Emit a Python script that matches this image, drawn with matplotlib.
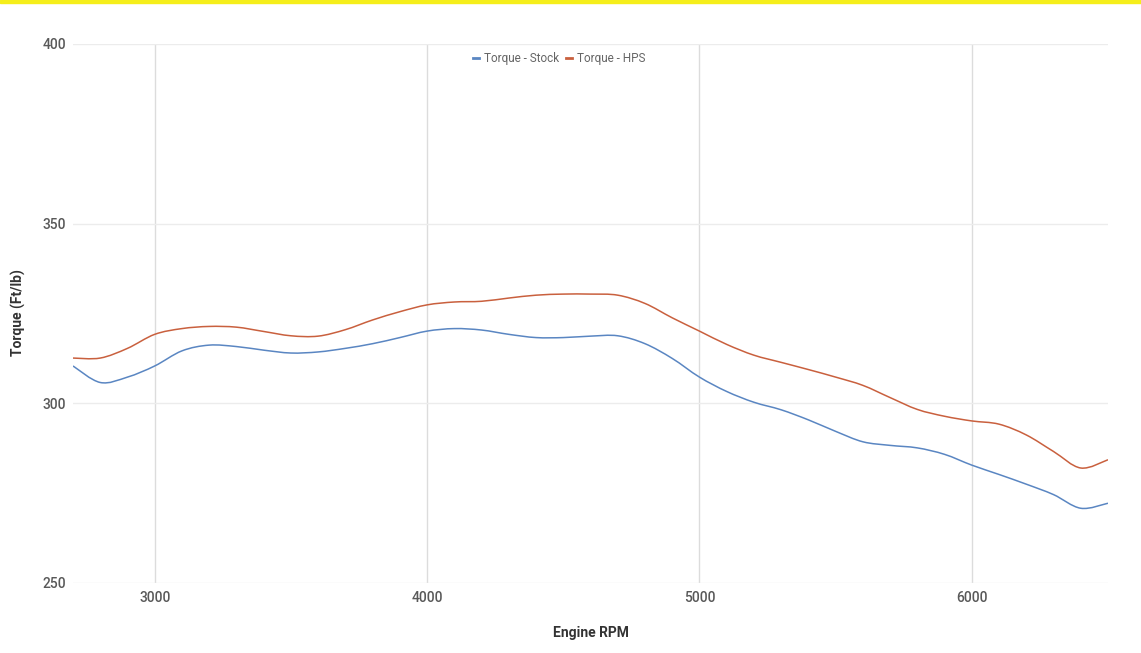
import numpy as np
import matplotlib
matplotlib.use("Agg")
import matplotlib.pyplot as plt
from matplotlib.lines import Line2D
from matplotlib.path import Path
from matplotlib.patches import PathPatch

# engine speed, every 100 rpm
rpm = list(range(2700, 6600, 100))

# torque (ft/lb)
torque_stock = [310.4, 305.8, 307.3, 310.4, 314.6, 316.2, 315.8, 314.8, 314.0, 314.3,
                315.3, 316.6, 318.3, 320.1, 320.8, 320.4, 319.2, 318.3, 318.3, 318.7,
                318.8, 316.6, 312.5, 307.3, 303.3, 300.3, 298.2, 295.4, 292.2, 289.3,
                288.3, 287.6, 285.8, 282.8, 280.2, 277.5, 274.6, 270.8, 272.2]
torque_hps = [312.6, 312.6, 315.3, 319.2, 320.8, 321.4, 321.2, 320.0, 318.8, 318.7,
              320.5, 323.2, 325.5, 327.4, 328.2, 328.4, 329.3, 330.1, 330.4, 330.4,
              330.1, 327.8, 323.8, 320.1, 316.4, 313.4, 311.4, 309.4, 307.3, 305.0,
              301.6, 298.3, 296.4, 295.1, 294.2, 291.2, 286.6, 282.0, 284.3]

x_ticks = [3000, 4000, 5000, 6000]
y_ticks = [250, 300, 350, 400]

blue = "#5a86c2"
red = "#c9603e"


def smooth_path(xs, ys):
    # catmull-rom style bezier through the points, like the sheets "smooth" line
    p = np.column_stack([xs, ys]).astype(float)
    p = np.vstack([p[0], p, p[-1]])
    verts = [p[1]]
    codes = [Path.MOVETO]
    for i in range(1, len(p) - 2):
        c1 = p[i] + (p[i + 1] - p[i - 1]) / 6
        c2 = p[i + 1] - (p[i + 2] - p[i]) / 6
        verts += [c1, c2, p[i + 1]]
        codes += [Path.CURVE4] * 3
    return Path(verts, codes)


plt.rcParams['font.family'] = ['Roboto', 'DejaVu Sans']

fig = plt.figure(figsize=(11.41, 6.53), dpi=100)
fig.patch.set_facecolor("white")

# yellow strip at the very top
fig.add_artist(plt.Rectangle((0, 1 - 3 / 653), 1, 3 / 653, transform=fig.transFigure,
                             color="#f5ee1a", zorder=0))

ax = fig.add_axes([73 / 1141, 1 - 583 / 653, (1108 - 73) / 1141, (583 - 44) / 653])
for ys, col in [(torque_stock, blue), (torque_hps, red)]:
    ax.add_patch(PathPatch(smooth_path(rpm, ys), fill=False, edgecolor=col, lw=1.1, zorder=3))

ax.set_xlim(2700, 6500)
ax.set_ylim(250, 400)
ax.set_xticks(x_ticks)
ax.set_yticks(y_ticks)
ax.grid(axis="x", color="#dcdcdc", lw=1.0)
ax.grid(axis="y", color="#ececec", lw=1.0)
ax.set_axisbelow(True)
for s in ax.spines.values():
    s.set_visible(False)
ax.tick_params(length=0, labelsize=10, labelcolor="#595959")
ax.tick_params(axis="y", pad=5)
ax.tick_params(axis="x", pad=6)
for lab in ax.get_xticklabels() + ax.get_yticklabels():
    lab.set_fontweight("medium")

ax.set_xlabel("Engine RPM", fontsize=10, fontweight="bold", color="#333333", labelpad=15)
fig.text(18 / 1141, 1 - 313 / 653, "Torque (Ft/lb)", rotation=90, ha="center", va="center",
         fontsize=10, fontweight="bold", color="#333333")

handles = [Line2D([0], [0], color=blue, lw=2), Line2D([0], [0], color=red, lw=2)]
ax.legend(handles, ["Torque - Stock", "Torque - HPS"], loc="upper center",
          bbox_to_anchor=(0.47, 1.005), ncol=2, frameon=False, fontsize=8.5,
          handlelength=0.5, handletextpad=0.4, columnspacing=0.6, labelcolor="#666666")

fig.savefig("out.png", dpi=100, facecolor="white")
